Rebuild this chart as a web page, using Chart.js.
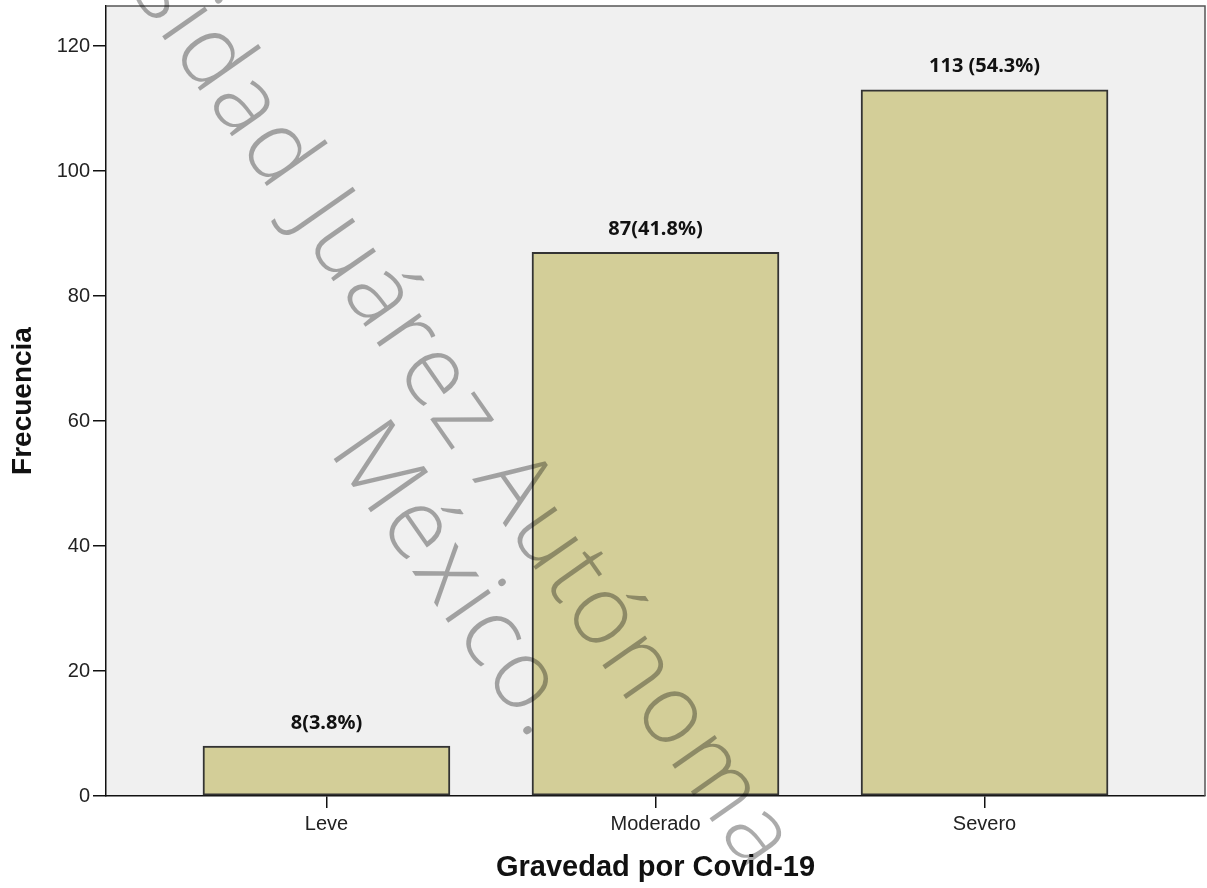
<!DOCTYPE html>
<html>
<head>
<meta charset="utf-8">
<script src="https://cdn.jsdelivr.net/npm/chart.js@4"></script>
<style>
  body { margin: 0; background: #fff; }
  #wrap { width: 1207px; height: 888px; }
</style>
</head>
<body>
<div id="wrap"><canvas id="gravedadChart"></canvas></div>
<script>
const categories = ['Leve', 'Moderado', 'Severo'];
const frequencies = [8, 87, 113];
const barLabels = ['8(3.8%)', '87(41.8%)', '113 (54.3%)'];
const yTicks = [0, 20, 40, 60, 80, 100, 120];
const watermarkLines = ['Universidad Juárez Autónoma', 'México.'];

// fondo gris del área del gráfico y marco
const plotFrame = {
    id: 'plotFrame',
    beforeDraw(chart) {
        const { ctx, chartArea: a } = chart;
        ctx.save();
        ctx.fillStyle = '#f0f0f0';
        ctx.fillRect(a.left, a.top, a.right - a.left, a.bottom - a.top);
        ctx.restore();
    },
    afterDraw(chart) {
        const { ctx, chartArea: a } = chart;
        ctx.save();
        ctx.strokeStyle = '#555';
        ctx.lineWidth = 1.5;
        ctx.beginPath();
        ctx.moveTo(a.left, a.top);
        ctx.lineTo(a.right, a.top);
        ctx.lineTo(a.right, a.bottom);
        ctx.stroke();
        ctx.restore();
    }
};

// etiquetas encima de las barras
const barValueLabels = {
    id: 'barValueLabels',
    afterDatasetsDraw(chart) {
        const ctx = chart.ctx;
        const meta = chart.getDatasetMeta(0);
        ctx.save();
        ctx.font = 'bold 20px "Noto Sans", "Open Sans", sans-serif';
        ctx.fillStyle = '#111';
        ctx.textAlign = 'center';
        ctx.textBaseline = 'middle';
        meta.data.forEach((bar, i) => {
            ctx.fillText(barLabels[i], bar.x, bar.y - 23);
        });
        ctx.restore();
    }
};

// marca de agua diagonal
const watermark = {
    id: 'watermark',
    afterDraw(chart) {
        const ctx = chart.ctx;
        const ang = 55 * Math.PI / 180;
        ctx.save();
        ctx.font = '300 98px "Open Sans", sans-serif';
        ctx.letterSpacing = '3px';
        ctx.fillStyle = 'rgba(0, 0, 0, 0.33)';
        ctx.textBaseline = 'alphabetic';

        ctx.save();
        ctx.translate(750, 876);
        ctx.rotate(ang);
        ctx.textAlign = 'right';
        ctx.fillText(watermarkLines[0], 0, 0);
        ctx.restore();

        ctx.save();
        ctx.translate(328, 451);
        ctx.rotate(ang);
        ctx.textAlign = 'left';
        ctx.fillText(watermarkLines[1], 0, 0);
        ctx.restore();

        ctx.restore();
    }
};

new Chart(document.getElementById('gravedadChart'), {
    type: 'bar',
    data: {
        datasets: [{
            data: frequencies.map((v, i) => ({ x: i, y: v })),
            backgroundColor: '#d3ce98',
            borderColor: '#333',
            borderWidth: 2,
            borderSkipped: false,
            barThickness: 247
        }]
    },
    options: {
        responsive: true,
        maintainAspectRatio: false,
        animation: false,
        layout: { padding: { top: 6, right: 2, left: 0, bottom: 0 } },
        scales: {
            x: {
                type: 'linear',
                offset: false,
                min: -0.67,
                max: 2.67,
                afterBuildTicks: function (scale) {
                    scale.ticks = categories.map((c, i) => ({ value: i }));
                },
                afterFit: function (scale) {
                    scale.height = 92;
                    scale.paddingLeft = 0;
                    scale.paddingRight = 0;
                },
                ticks: {
                    color: '#222',
                    padding: 4,
                    font: { family: '"Liberation Sans", Arial, sans-serif', size: 20 },
                    callback: function (value) {
                        return categories[value];
                    }
                },
                grid: {
                    offset: false,
                    drawOnChartArea: false,
                    color: '#111',
                    tickLength: 12,
                    lineWidth: 1.5
                },
                border: { display: true, color: '#111', width: 1.5 },
                title: {
                    display: true,
                    text: 'Gravedad por Covid-19',
                    color: '#111',
                    font: { family: '"Liberation Sans", Arial, sans-serif', size: 29, weight: 'bold' },
                    padding: { top: 0, bottom: 3 }
                }
            },
            y: {
                min: 0,
                max: 126.4,
                afterBuildTicks: function (scale) {
                    scale.ticks = yTicks.map(v => ({ value: v }));
                },
                afterFit: function (scale) {
                    scale.width = 106;
                    scale.paddingTop = 0;
                    scale.paddingBottom = 0;
                },
                ticks: {
                    color: '#222',
                    padding: 3,
                    font: { family: '"Liberation Sans", Arial, sans-serif', size: 20 }
                },
                grid: {
                    drawOnChartArea: false,
                    color: '#111',
                    tickLength: 13,
                    lineWidth: 1.5
                },
                border: { display: true, color: '#111', width: 1.5 },
                title: {
                    display: true,
                    text: 'Frecuencia',
                    color: '#111',
                    font: { family: '"Liberation Sans", Arial, sans-serif', size: 28, weight: 'bold' },
                    padding: { top: 6, bottom: 0 }
                }
            }
        },
        plugins: {
            legend: { display: false },
            tooltip: { enabled: false }
        }
    },
    plugins: [plotFrame, barValueLabels, watermark]
});
</script>
</body>
</html>
